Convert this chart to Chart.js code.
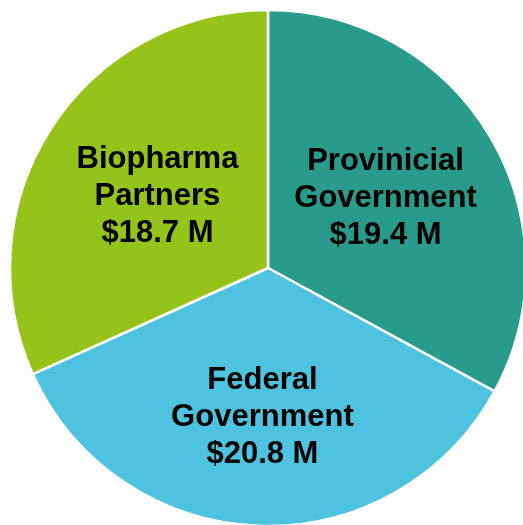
<!DOCTYPE html>
<html>
<head>
<meta charset="utf-8">
<script src="https://cdn.jsdelivr.net/npm/chart.js@4"></script>
<style>
  html, body { margin: 0; padding: 0; background: #fff; }
  #wrap { width: 523px; height: 525px; }
</style>
</head>
<body>
<div id="wrap"><canvas id="fundingChart" width="523" height="525"></canvas></div>
<script>
// -----------------------------
// Data (clockwise from 12 o'clock)
// -----------------------------
const categories = [
  ["Provinicial", "Government"],
  ["Federal", "Government"],
  ["Biopharma", "Partners"]
];
const fundingMillions = [19.4, 20.8, 18.7];
const sliceColors = ["#289B8A", "#4DC3DF", "#95C31A"];

// how far out (share of radius) each label sits
const labelRadius = [0.53, 0.58, 0.51];

// -----------------------------
// Label plugin: text in each slice
// -----------------------------
const sliceLabels = {
  id: "sliceLabels",
  afterDatasetsDraw(chart) {
    const ctx = chart.ctx;
    const meta = chart.getDatasetMeta(0);
    ctx.save();
    ctx.font = "bold 31px 'Liberation Sans', Arial, sans-serif";
    ctx.fillStyle = "#000";
    ctx.textAlign = "center";
    ctx.textBaseline = "middle";
    const lineH = 37;
    meta.data.forEach((arc, i) => {
      const p = arc.getProps(["x", "y", "startAngle", "endAngle", "outerRadius"], true);
      const mid = (p.startAngle + p.endAngle) / 2;
      const r = p.outerRadius * labelRadius[i];
      const cx = p.x + Math.cos(mid) * r;
      const cy = p.y + Math.sin(mid) * r;
      const lines = [...categories[i], "$" + fundingMillions[i].toFixed(1) + " M"];
      const top = cy - (lines.length - 1) * lineH / 2;
      lines.forEach((txt, k) => ctx.fillText(txt, cx, top + k * lineH));
    });
    ctx.restore();
  }
};

const ctx = document.getElementById("fundingChart").getContext("2d");
new Chart(ctx, {
  type: "pie",
  data: {
    labels: categories.map(c => c.join(" ")),
    datasets: [{
      data: fundingMillions,
      backgroundColor: sliceColors,
      borderColor: "#ffffff",
      borderWidth: 2.5
    }]
  },
  options: {
    responsive: false,
    animation: false,
    radius: 258,
    layout: { padding: { left: 13, top: 11, right: 0, bottom: 0 } },
    plugins: {
      legend: { display: false },
      tooltip: { enabled: false }
    }
  },
  plugins: [sliceLabels]
});
</script>
</body>
</html>
